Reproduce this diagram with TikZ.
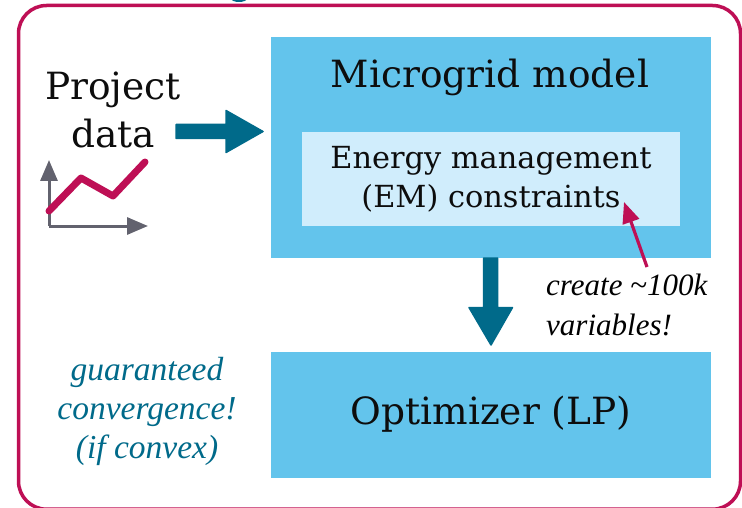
\documentclass[tikz,border=0pt]{standalone}
\usepackage{fontspec}
\setmainfont{DejaVu Serif}
\newfontfamily\itfont{Liberation Serif}
\definecolor{crimb}{HTML}{BE0F55}
\definecolor{teal1}{HTML}{006A8A}
\definecolor{sky}{HTML}{63C4EC}
\definecolor{pale}{HTML}{D0EDFC}
\definecolor{axisg}{HTML}{62626E}
\usetikzlibrary{arrows.meta}
\tikzset{x=1pt,y=-1pt,
 blockbox/.style={fill=sky,draw=none},
 innerbox/.style={fill=pale,draw=none},
 lbl/.style={align=center,inner sep=0pt,text=black!95},
 note/.style={inner sep=0pt},
 bigarrow/.style={fill=teal1,draw=teal1,line width=1.5pt,line join=round},
 axisline/.style={draw=axisg,line width=3pt,-{Triangle[length=21pt,width=17pt]}},
}
\begin{document}
\begin{tikzpicture}
\useasboundingbox (0,0) rectangle (742,508);
\fill[white] (0,0) rectangle (742,508);
\begin{scope}
\clip (0,0) rectangle (742,508);
\fill[teal1] (239,-1.5) ellipse (8pt and 3.5pt);
\draw[crimb,line width=3.5pt,rounded corners=28pt] (18.5,5.5) rectangle (740.5,509.2);
\end{scope}
\node[blockbox,minimum width=440pt,minimum height=221pt,inner sep=0pt,anchor=north west] (model) at (271,37) {};
\node[innerbox,minimum width=378pt,minimum height=94pt,inner sep=0pt,anchor=north west] (em) at (302,132) {};
\node[blockbox,minimum width=440pt,minimum height=126pt,inner sep=0pt,anchor=north west] (opt) at (271,352) {};
\node[lbl,font=\fontsize{37.5}{40}\selectfont] at (490,77) {Microgrid model};
\node[lbl,font=\fontsize{30.4}{39}\selectfont] at (491,179) {Energy management\\(EM) constraints};
\node[lbl,font=\fontsize{37.5}{40}\selectfont] at (491,414) {Optimizer (LP)};
\node[lbl,font=\fontsize{37.5}{48}\selectfont] at (113,110) {Project\\data};
\node[note,align=left,text=black,font=\itfont\itshape\fontsize{31}{40}\selectfont,anchor=west] (n1) at (546,305) {create \textasciitilde 100k\\variables!};
\node[note,align=center,text=teal1,font=\itfont\itshape\fontsize{33.5}{39}\selectfont] (n2) at (147,411) {guaranteed\\convergence!\\(if convex)};
\fill[bigarrow] (176,124.5) -- (226,124.5) -- (226,110.5) -- (263,131.5) -- (226,152.5) -- (226,138.5) -- (176,138.5) -- cycle;
\fill[bigarrow] (483.5,258) -- (497.5,258) -- (497.5,307.5) -- (512.5,307.5) -- (491,345) -- (469,307.5) -- (483.5,307.5) -- cycle;
\coordinate (o) at (49,226);
\coordinate (ax) at (148,226);
\coordinate (ay) at (49,160);
\draw[axisline] (o) -- (ax);
\draw[axisline] (o) -- (ay);
\draw[crimb,line width=7pt,line cap=round,line join=round] (49,211) -- (81,178) -- (113,196) -- (145,162);
\coordinate (c1) at (647,267);\coordinate (c2) at (624,202);
\draw[crimb,line width=3.2pt,-{Triangle[length=21pt,width=17pt]}] (c1) -- (c2);
\end{tikzpicture}
\end{document}
